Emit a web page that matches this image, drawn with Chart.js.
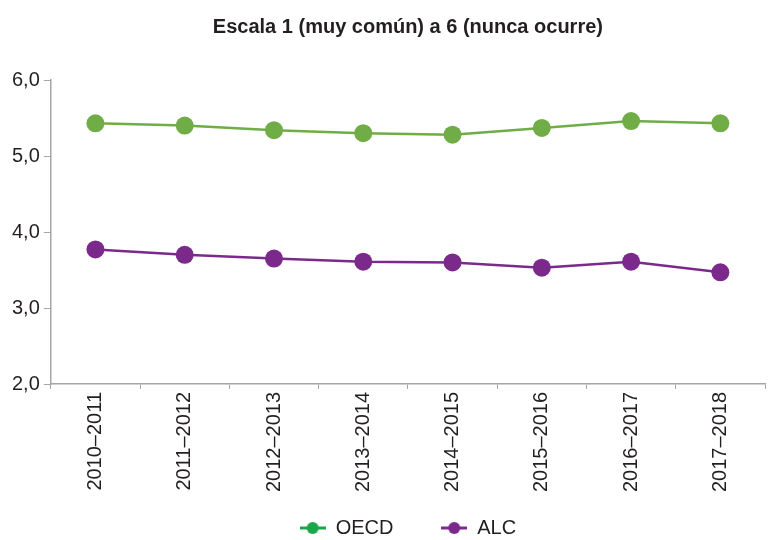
<!DOCTYPE html>
<html>
<head>
<meta charset="utf-8">
<script src="https://cdn.jsdelivr.net/npm/chart.js@4/dist/chart.umd.min.js"></script>
<style>
  html, body { margin: 0; padding: 0; overflow: hidden; background: #fff; }
  #wrap { width: 774px; height: 540px; }
</style>
</head>
<body>
<div id="wrap"><canvas id="myChart" width="774" height="540"></canvas></div>
<script>
// periodos
const periodos = ['2010–2011', '2011–2012', '2012–2013', '2013–2014', '2014–2015', '2015–2016', '2016–2017', '2017–2018']
// valores
const oecd = [5.43, 5.40, 5.34, 5.30, 5.28, 5.37, 5.46, 5.43]
const alc = [3.77, 3.70, 3.65, 3.61, 3.60, 3.53, 3.61, 3.47]
const yTicks = [2, 3, 4, 5, 6]

const verde = '#70ad47'
const verdeLeyenda = '#1ba64b'
const morado = '#7b2a8c'
const gris = '#a6a6a6'
const texto = '#231f20'

// icono de leyenda: linea con punto
function marcador (color) {
  const c = document.createElement('canvas')
  c.width = 26
  c.height = 14
  const g = c.getContext('2d')
  g.strokeStyle = color
  g.lineWidth = 3
  g.beginPath()
  g.moveTo(0, 7)
  g.lineTo(26, 7)
  g.stroke()
  g.fillStyle = color
  g.beginPath()
  g.arc(13, 7, 6, 0, Math.PI * 2)
  g.fill()
  return c
}
const iconos = [marcador(verdeLeyenda), marcador(morado)]
// espacio extra despues de OECD (nbsp)
const sep = ['\u00a0\u00a0\u00a0\u00a0\u00a0', '']

const ctx = document.getElementById('myChart').getContext('2d')
const myChart = new Chart(ctx, {
  type: 'line',
  data: {
    labels: periodos,
    datasets: [{
      label: 'OECD',
      data: oecd,
      borderColor: verde,
      backgroundColor: verde,
      borderWidth: 2.5,
      pointRadius: 9,
      pointHoverRadius: 9,
      pointBorderWidth: 0,
      tension: 0
    },
    {
      label: 'ALC',
      data: alc,
      borderColor: morado,
      backgroundColor: morado,
      borderWidth: 2.5,
      pointRadius: 9,
      pointHoverRadius: 9,
      pointBorderWidth: 0,
      tension: 0
    }]
  },
  options: {
    responsive: false,
    animation: false,
    layout: { padding: { left: 8, right: 0, top: 12, bottom: 0 } },
    plugins: {
      title: {
        display: true,
        fullSize: false,
        text: 'Escala 1 (muy común) a 6 (nunca ocurre)',
        color: texto,
        font: { family: 'Liberation Sans', size: 20, weight: 'bold' },
        padding: { top: 3, bottom: 41 }
      },
      legend: {
        position: 'bottom',
        fullSize: false,
        maxHeight: 42,
        labels: {
          usePointStyle: true,
          pointStyleWidth: 26,
          color: texto,
          padding: 20,
          font: { family: 'Liberation Sans', size: 20 },
          generateLabels: chart => chart.data.datasets.map((ds, i) => ({
            text: ds.label + sep[i],
            pointStyle: iconos[i],
            fillStyle: ds.borderColor,
            strokeStyle: ds.borderColor,
            lineWidth: 0,
            hidden: false,
            datasetIndex: i,
            fontColor: texto
          }))
        }
      },
      tooltip: { enabled: false }
    },
    scales: {
      x: {
        offset: true,
        afterFit: scale => { scale.height = 114 },
        grid: { display: true, drawOnChartArea: false, offset: true, tickLength: 5, color: gris },
        border: { color: gris, width: 1.5 },
        ticks: {
          color: texto,
          minRotation: 90,
          maxRotation: 90,
          padding: 3,
          font: { family: 'Liberation Sans', size: 20 }
        }
      },
      y: {
        min: 2,
        max: 6,
        afterBuildTicks: axis => { axis.ticks = yTicks.map(v => ({ value: v })) },
        grid: { display: true, drawOnChartArea: false, tickLength: 7, color: gris },
        border: { color: gris, width: 1.5 },
        ticks: {
          color: texto,
          padding: 4,
          font: { family: 'Liberation Sans', size: 20 },
          callback: v => v.toFixed(1).replace('.', ',')
        }
      }
    }
  }
})
</script>
</body>
</html>
